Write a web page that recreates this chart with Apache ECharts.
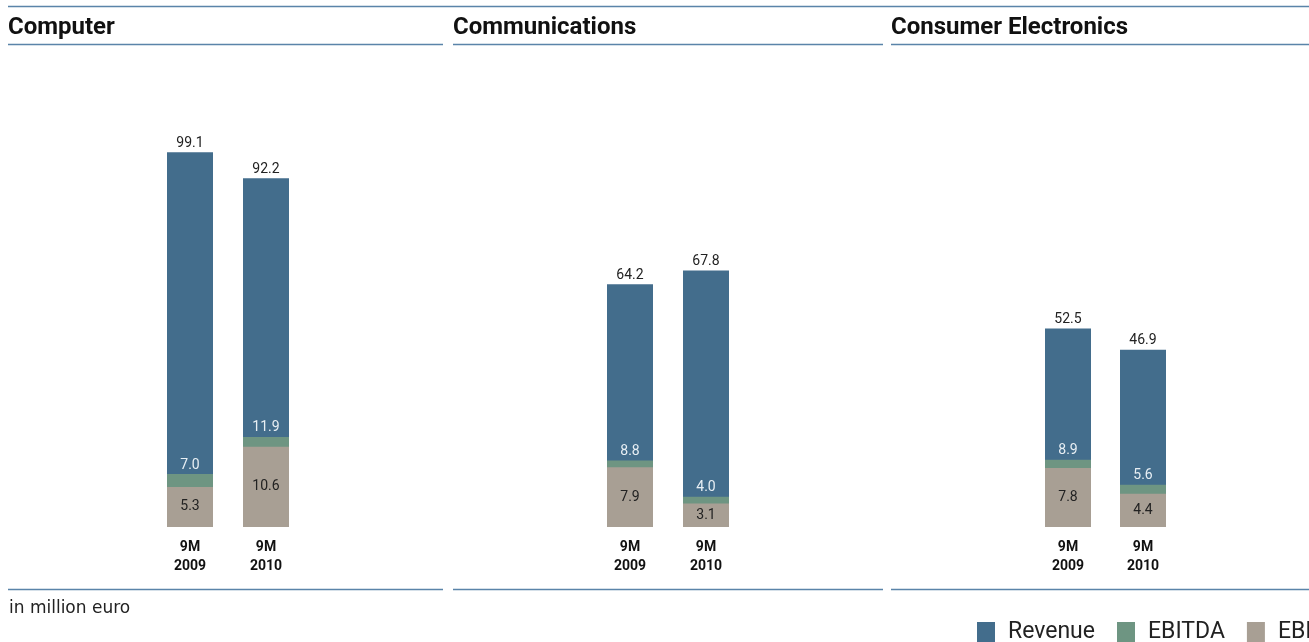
<!DOCTYPE html>
<html>
<head>
<meta charset="utf-8">
<script src="https://cdn.jsdelivr.net/npm/echarts@6/dist/echarts.min.js"></script>
<style>
html,body{margin:0;padding:0;background:#fff;}
#chart{width:1309px;height:642px;}
</style>
</head>
<body>
<div id="chart"></div>
<script>
const panelTitles = ['Computer', 'Communications', 'Consumer Electronics'];
const categories = ['9M\n2009', '9M\n2010'];
const revenue = [[99.1, 92.2], [64.2, 67.8], [52.5, 46.9]];
const ebitda = [[7.0, 11.9], [8.8, 4.0], [8.9, 5.6]];
const ebit = [[5.3, 10.6], [7.9, 3.1], [7.8, 4.4]];
const seriesNames = ['Revenue', 'EBITDA', 'EBIT'];
const unitNote = 'in million euro';

const COLORS = ['#436d8c', '#6e9582', '#a89f94'];
const LINE = '#5a84a9';
const FONT = 'Roboto';

const gridLefts = [152, 592, 1030.5];
const gridWidths = [152, 152, 150];
const titleX = [8, 453, 891];
const segs = [[8, 443], [453, 883], [891, 1309]];

const grids = [], xAxes = [], yAxes = [], series = [];
for (let p = 0; p < 3; p++) {
  grids.push({left: gridLefts[p], width: gridWidths[p], top: 111, bottom: 115});
  xAxes.push({
    type: 'category', gridIndex: p, data: categories,
    axisLine: {show: false}, axisTick: {show: false}, splitLine: {show: false},
    axisLabel: {margin: 11, fontFamily: FONT, fontWeight: 'bold', fontSize: 14, lineHeight: 19, color: '#111'}
  });
  yAxes.push({type: 'value', gridIndex: p, min: 0, max: 110, show: false});
  yAxes.push({type: 'value', gridIndex: p, min: 0, max: 55, show: false});
  series.push({
    name: seriesNames[0], type: 'bar', xAxisIndex: p, yAxisIndex: 2 * p,
    data: revenue[p], barWidth: 46, barGap: '-100%', itemStyle: {color: COLORS[0]},
    label: {show: true, position: 'top', distance: 2, fontFamily: FONT, fontSize: 14, color: '#222',
      formatter: v => v.value.toFixed(1)}
  });
  series.push({
    name: seriesNames[1], type: 'bar', xAxisIndex: p, yAxisIndex: 2 * p + 1,
    data: ebitda[p], barWidth: 46, barGap: '-100%', itemStyle: {color: COLORS[1]},
    label: {show: true, position: 'top', distance: 2, fontFamily: FONT, fontSize: 14, color: '#e8eff4',
      formatter: v => v.value.toFixed(1)}
  });
  series.push({
    name: seriesNames[2], type: 'bar', xAxisIndex: p, yAxisIndex: 2 * p + 1,
    data: ebit[p], barWidth: 46, barGap: '-100%', itemStyle: {color: COLORS[2]},
    label: {show: true, position: 'inside', fontFamily: FONT, fontSize: 14, color: '#222',
      formatter: v => v.value.toFixed(1)}
  });
}

const graphics = [];
graphics.push({type: 'line', shape: {x1: 8, y1: 6.5, x2: 1309, y2: 6.5}, style: {stroke: LINE, lineWidth: 1.5}});
for (let p = 0; p < 3; p++) {
  graphics.push({type: 'line', shape: {x1: segs[p][0], y1: 44.5, x2: segs[p][1], y2: 44.5}, style: {stroke: LINE, lineWidth: 1.5}});
  graphics.push({type: 'line', shape: {x1: segs[p][0], y1: 589.5, x2: segs[p][1], y2: 589.5}, style: {stroke: LINE, lineWidth: 1.5}});
  graphics.push({type: 'text', left: titleX[p], top: 16,
    style: {text: panelTitles[p], font: 'bold 24px ' + FONT, fill: '#111'}});
}
graphics.push({type: 'text', left: 9, top: 600, style: {text: unitNote, font: '17px "DejaVu Sans"', fill: '#222'}});

const chart = echarts.init(document.getElementById('chart'), null, {renderer: 'canvas'});
chart.setOption({
  animation: false,
  backgroundColor: '#fff',
  grid: grids, xAxis: xAxes, yAxis: yAxes, series: series,
  legend: {
    data: seriesNames, left: 977, top: 621, width: 600, orient: 'horizontal', padding: 0,
    itemWidth: 18, itemHeight: 21, itemGap: 22, icon: 'rect',
    textStyle: {fontFamily: FONT, fontSize: 23, color: '#222', padding: [0, 0, 0, 8]},
    selectedMode: false
  },
  graphic: graphics
});
</script>
</body>
</html>
